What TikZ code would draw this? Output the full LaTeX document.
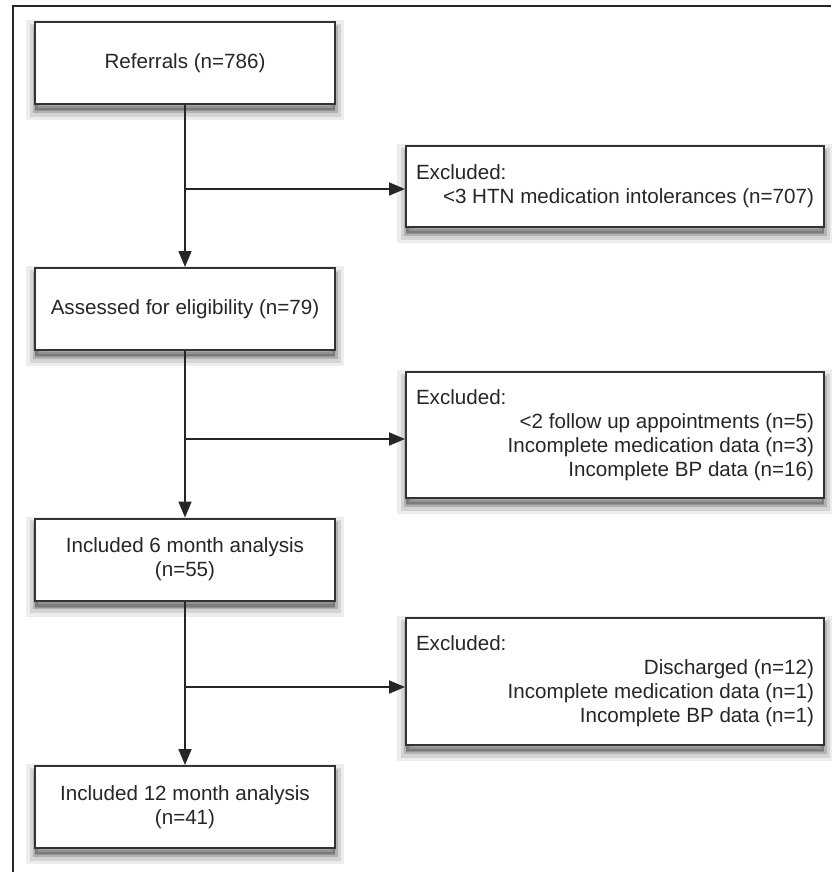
\documentclass[tikz,border=0pt]{standalone}
\usepackage{fontspec}
\setmainfont{Liberation Sans}
\usetikzlibrary{arrows.meta}
\usetikzlibrary{shadows}
\setlength{\parindent}{0pt}

\begin{document}
\begin{tikzpicture}[x=0.5pt, y=-0.5pt,
	font=\fontsize{10.3}{12}\selectfont, text=black!85,
	>={Triangle[length=8pt,width=6.5pt]},
	boxshadow/.style={
		general shadow={shadow yshift=-3.5pt, fill=black, draw=black, line width=9pt, opacity=0.07},
		general shadow={shadow yshift=-3.5pt, fill=black, draw=black, line width=5.5pt, opacity=0.1},
		general shadow={shadow yshift=-3pt, fill=black, draw=black, line width=2.5pt, opacity=0.16}},
	mainbox/.style={draw=black!80, line width=1pt, fill=white, boxshadow, minimum width=150pt, minimum height=41pt, align=center, inner sep=0pt},
	exclbox/.style={draw=black!80, line width=1pt, fill=white, boxshadow, text width=199pt, align=justify, inner xsep=5pt, inner ysep=0pt},
	conn/.style={draw=black!85, line width=0.85pt}]
\path[fill=white, use as bounding box] (0,0) rectangle (831,872);
\draw[line width=1.1pt, black!85] (13,872) -- (13,6) -- (831,6);

% main column
\node[mainbox] (refer) at (185,63.5) {Referrals (n=786)};
\node[mainbox] (assess) at (185,309) {Assessed for eligibility (n=79)};
\node[mainbox] (incsix) at (185,559.5) {Included 6 month analysis\\(n=55)};
\node[mainbox] (inctwelve) at (185,807) {Included 12 month analysis\\(n=41)};

% exclusions
\node[exclbox, minimum height=40.5pt] (exclA) at (615,186.5) {Excluded:\par
	\hspace*{\fill}<3 HTN medication intolerances (n=707)};
\node[exclbox, minimum height=63pt] (exclB) at (615,435) {Excluded:\par
	\hspace*{\fill}<2 follow up appointments (n=5)\par
	\hspace*{\fill}Incomplete medication data (n=3)\par
	\hspace*{\fill}Incomplete BP data (n=16)};
\node[exclbox, minimum height=63.5pt] (exclC) at (615,681.5) {Excluded:\par
	\hspace*{\fill}Discharged (n=12)\par
	\hspace*{\fill}Incomplete medication data (n=1)\par
	\hspace*{\fill}Incomplete BP data (n=1)};

\coordinate (brA) at (185,189);
\coordinate (brB) at (185,439);
\coordinate (brC) at (185,687);

\draw[->, conn] (refer) -- (assess);
\draw[->, conn] (assess) -- (incsix);
\draw[->, conn] (incsix) -- (inctwelve);
\draw[->, conn] (brA) -- (brA -| exclA.west);
\draw[->, conn] (brB) -- (brB -| exclB.west);
\draw[->, conn] (brC) -- (brC -| exclC.west);
\end{tikzpicture}
\end{document}
